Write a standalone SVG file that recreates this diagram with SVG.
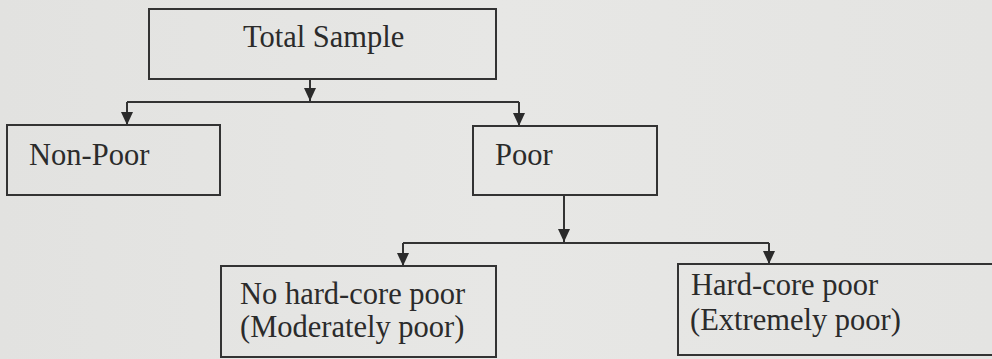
<svg xmlns="http://www.w3.org/2000/svg" width="992" height="359" viewBox="0 0 992 359">
<defs>
<style>
.box{fill:none;stroke:#333;stroke-width:2}
.lbl{font-size:30.5px;fill:#2b2b2b}
.con{fill:none;stroke:#333;stroke-width:2}
</style>
<marker id="arr" viewBox="0 0 13 12" refX="13" refY="6" markerWidth="13" markerHeight="12" markerUnits="userSpaceOnUse" orient="auto">
<path d="M0,0 L13,6 L0,12 z" fill="#2b2b2b"/>
</marker>
<linearGradient id="bg" x1="0" y1="0" x2="1" y2="0">
<stop offset="0" stop-color="#e2e2e0"/>
<stop offset="0.5" stop-color="#e7e7e5"/>
<stop offset="1" stop-color="#e4e4e2"/>
</linearGradient>
</defs>
<rect x="0" y="0" width="992" height="359" fill="url(#bg)"/>
<g id="connectors">
<path class="con" d="M310,79 V101" marker-end="url(#arr)"/>
<path class="con" d="M127,102 H519"/>
<path class="con" d="M127,102 V125" marker-end="url(#arr)"/>
<path class="con" d="M519,102 V126" marker-end="url(#arr)"/>
<path class="con" d="M564,195 V242" marker-end="url(#arr)"/>
<path class="con" d="M403,243 H769"/>
<path class="con" d="M403,243 V266" marker-end="url(#arr)"/>
<path class="con" d="M769,243 V264" marker-end="url(#arr)"/>
</g>
<g font-family="'Liberation Serif', 'Times New Roman', 'DejaVu Serif', serif">
<g id="total">
<rect class="box" x="149" y="9" width="347" height="70"/>
<text class="lbl" x="243" y="47">Total Sample</text>
</g>
<g id="nonpoor">
<rect class="box" x="7" y="125" width="213" height="70"/>
<text class="lbl" x="29" y="165">Non-Poor</text>
</g>
<g id="poor">
<rect class="box" x="473" y="126" width="184" height="69"/>
<text class="lbl" x="495" y="165">Poor</text>
</g>
<g id="moderate">
<rect class="box" x="221" y="266" width="275" height="91"/>
<text class="lbl" x="240" y="304">No hard-core poor</text>
<text class="lbl" x="240" y="337">(Moderately poor)</text>
</g>
<g id="extreme">
<rect class="box" x="678" y="264" width="330" height="91"/>
<text class="lbl" x="691" y="295">Hard-core poor</text>
<text class="lbl" x="690" y="330">(Extremely poor)</text>
</g>
</g>
</svg>
